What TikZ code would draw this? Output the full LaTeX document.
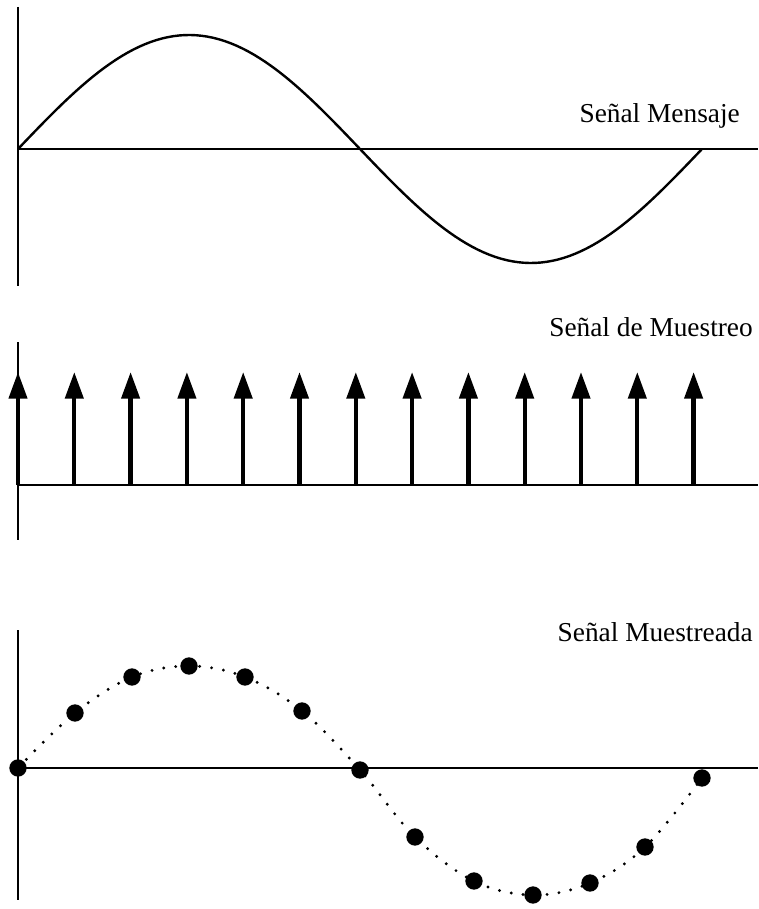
\documentclass[tikz,border=0pt]{standalone}
\usepackage{fontspec}
\setmainfont{Liberation Serif}
\usepackage{tikz}
\usetikzlibrary{arrows.meta}
\tikzset{
	axis/.style={line width=0.9pt},
	signal/.style={line width=1.8pt},
	tri/.tip={Triangle[width=13.5pt, length=20pt]},
	impulse/.style={-tri, line width=3.2pt},
	sampled/.style={line width=2.4pt, line cap=round, dash pattern=on 0pt off 9pt},
	sample/.style={circle, fill=black, inner sep=0pt, minimum size=13pt},
	label/.style={anchor=base east, inner sep=0pt, font=\fontsize{20.5}{24}\selectfont}
}
\begin{document}
\begin{tikzpicture}[x=0.75pt, y=-0.75pt]
	\useasboundingbox (0,0) rectangle (758,909);
	
	% Senal mensaje
	\draw[axis] (18,7) -- (18,286);
	\draw[axis] (18,149) -- (758,149);
	\draw[signal] plot[domain=0:360, samples=120] ({18+\x*1.9}, {149-114*sin(\x)});
	\node[label] (mensaje) at (740,123) {Señal Mensaje};
	
	% Senal de muestreo
	\draw[axis] (18,342) -- (18,540);
	\draw[axis] (18,485) -- (758,485);
	\foreach \k in {0,...,12}{
		\coordinate (base\k) at ({18+\k*56.3},485);
		\coordinate (top\k) at ({18+\k*56.3},372);
		\draw[impulse] (base\k) -- (top\k);
	}
	\node[label] (muestreo) at (753,336) {Señal de Muestreo};
	
	% Senal muestreada
	\draw[axis] (18,630) -- (18,900);
	\draw[axis] (18,768) -- (758,768);
	\draw[sampled] plot[smooth, tension=0.6] coordinates {(18,768) (75,713) (132,677) (189,666) (245,677) (302,711) (360,770) (415,837) (474,881) (533,895) (590,883) (645,847) (702,778)};
	\foreach \x/\y [count=\i] in {18/768, 75/713, 132/677, 189/666, 245/677, 302/711, 360/770, 415/837, 474/881, 533/895, 590/883, 645/847, 702/778}{
		\node[sample] (s\i) at (\x,\y) {};
	}
	\node[label] (muestreada) at (753,641) {Señal Muestreada};
\end{tikzpicture}
\end{document}
